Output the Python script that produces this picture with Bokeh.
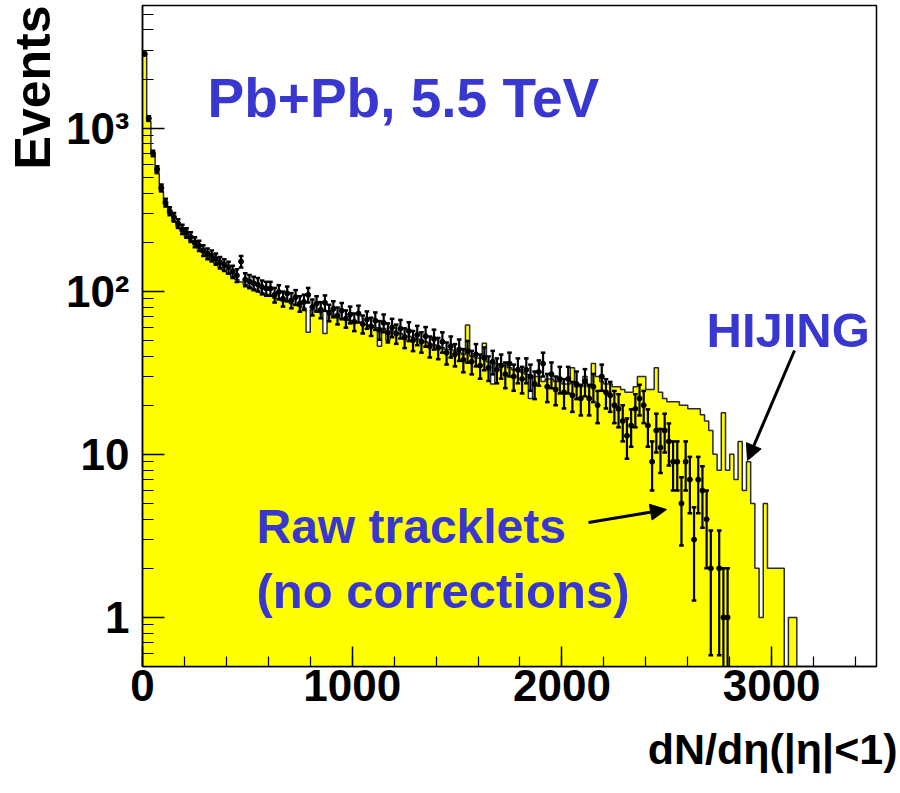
import math
import json
from bokeh.plotting import figure
from bokeh.models import (Range1d, FixedTicker, CustomJSTickFormatter, Label,
                          Arrow, NormalHead, Title)
from bokeh.embed import file_html
from bokeh.resources import INLINE

# ---------------- data ----------------
bin_width = 20  # dN/deta units per bin, bins start at 0

hijing_counts = [
    2900, 1100, 700, 525, 410, 340, 300, 268, 248, 232,
    215, 205, 193, 182, 172, 163, 156, 148, 140, 134,
    128, 123, 118, 114, 110, 107, 104, 101, 98, 96,
    93, 91, 89, 87, 86, 84, 82, 81, 79, 56,
    77, 76, 74, 55, 72, 71, 69, 68, 67, 66,
    65, 64, 63, 62, 61, 60, 46, 59, 50, 57,
    56, 55, 54, 53, 52, 51, 50, 49, 48, 47,
    46, 45, 44, 44, 43, 42, 41, 62, 40, 39,
    39, 48, 37, 27, 36, 35, 35, 34, 33, 33,
    32, 31, 22, 30, 30, 28, 29, 29, 28, 28,
    27, 27, 34, 26, 26, 30, 26, 36, 30, 28,
    27, 27, 26, 26, 25, 24, 24, 26, 30, 30,
    25, 25, 34, 24, 22, 21, 21, 21, 20, 20,
    19, 19, 19, 17.5, 16, 14, 10, 8, 18, 8,
    10, 7, 12, 6, 9, 5, 2, 1, 5, 2,
    2, 2, 2, 0, 1, 1,
]

tracklet_counts = [
    2850, 1150, 700, 560, 430, 350, 310, 285, 260, 240,
    228, 215, 200, 190, 178, 170, 165, 158, 150, 145,
    140, 132, 125, 152, 118, 115, 112, 110, 106, 104,
    104, 95, 99, 90, 97, 88, 92, 84, 86, 95,
    80, 84, 77, 85, 74, 78, 71, 76, 68, 72,
    65, 73, 63, 67, 61, 66, 58, 64, 56, 60,
    55, 59, 52, 57, 50, 54, 49, 53, 46, 51,
    45, 49, 42, 46, 41, 44, 38, 43, 37, 41,
    35, 39, 34, 37, 33, 35, 31, 36, 30, 33,
    29, 33, 30, 27, 32, 36, 26, 31, 25, 29,
    24, 29, 23, 27, 22, 28, 22, 26, 20, 30,
    24, 23, 20, 19, 16, 13, 15, 19, 22, 20,
    15, 9, 14, 11, 14, 12, 9, 9, 5, 9,
    7, 3, 7, 6, 4, 2, 0, 2, 1, 1,
]

x_tick_values = [0, 1000, 2000, 3000]
x_minor_step = 200
y_tick_values = [1, 10, 100, 1000]
y_tick_labels = ["1", "10", "10\u00b2", "10\u00b3"]

title_text = "Pb+Pb, 5.5 TeV"
hijing_text = "HIJING"
raw_text_1 = "Raw tracklets"
raw_text_2 = "(no corrections)"
x_title = "dN/d\u03b7(|\u03b7|<1)"
y_title = "Events"

# ---------------- layout ----------------
X_MIN, X_MAX = 0, 3500
Y_MIN, Y_MAX = 0.5, 5650
W, H = 900, 793
FL, FR, FT, FB = 142, 876, 5, 666   # frame edges in canvas pixels
FLOOR = 1e-3                         # below the visible log range
FONT = "Liberation Sans"
BLUE = "#3838d0"


def to_data(px, py):
    """Canvas pixel -> data coordinates (for placing annotations)."""
    x = X_MIN + (px - FL) / (FR - FL) * (X_MAX - X_MIN)
    l0, l1 = math.log10(Y_MIN), math.log10(Y_MAX)
    ly = l1 - (py - FT) / (FB - FT) * (l1 - l0)
    return x, 10 ** ly


p = figure(width=W, height=H,
           x_range=Range1d(X_MIN, X_MAX), y_range=Range1d(Y_MIN, Y_MAX),
           y_axis_type="log", output_backend="svg", toolbar_location=None,
           min_border_left=FL, min_border_right=W - FR,
           min_border_top=FT, min_border_bottom=H - FB)
p.background_fill_color = "white"
p.border_fill_color = "white"
p.outline_line_color = "black"
p.outline_line_width = 1.5
p.xgrid.visible = False
p.ygrid.visible = False

# ---------------- HIJING histogram (one filled step shape + outline) ----------------
sx, sy = [0], [FLOOR]
for i, c in enumerate(hijing_counts):
    v = c if c > 0 else FLOOR
    sx += [i * bin_width, (i + 1) * bin_width]
    sy += [v, v]
sx.append(len(hijing_counts) * bin_width)
sy.append(FLOOR)
p.patch(sx, sy, fill_color="#ffff00", line_color=None)
p.line(sx, sy, line_color="#2a2a2a", line_width=1.5)

# ---------------- raw tracklets (points with Poisson errors) ----------------
cx, cy, lo, hi = [], [], [], []
for i, n in enumerate(tracklet_counts):
    if n <= 0:
        continue
    e = math.sqrt(n)
    cx.append(i * bin_width + bin_width / 2)
    cy.append(n)
    lo.append(max(n - e, FLOOR))
    hi.append(n + e)

cap = 11
p.segment(x0=cx, y0=lo, x1=cx, y1=hi, line_color="black", line_width=2.2)
p.segment(x0=[x - cap for x in cx], y0=hi, x1=[x + cap for x in cx], y1=hi,
          line_color="black", line_width=2.5)
lcx = [x for x, l in zip(cx, lo) if l > FLOOR]
llo = [l for l in lo if l > FLOOR]
p.segment(x0=[x - cap for x in lcx], y0=llo, x1=[x + cap for x in lcx], y1=llo,
          line_color="black", line_width=2.5)
p.scatter(cx, cy, size=5, color="black")

# ---------------- axes ----------------
xax = p.xaxis[0]
yax = p.yaxis[0]
xax.ticker = FixedTicker(ticks=x_tick_values,
                         minor_ticks=list(range(X_MIN, X_MAX + 1, x_minor_step)))
ymin_ticks = []
for dec in [0.1, 1, 10, 100, 1000]:
    for k in range(2, 10):
        ymin_ticks.append(k * dec)
yax.ticker = FixedTicker(ticks=y_tick_values, minor_ticks=ymin_ticks)
label_map = {str(v): l for v, l in zip(y_tick_values, y_tick_labels)}
yax.formatter = CustomJSTickFormatter(
    code="const m = " + json.dumps(label_map) + "; const k = String(tick); return (k in m) ? m[k] : '';")

for ax, big in ((xax, 20), (yax, 22)):
    ax.major_tick_in = big
    ax.major_tick_out = 0
    ax.minor_tick_in = big // 2
    ax.minor_tick_out = 0
    ax.axis_line_color = "black"
    ax.axis_line_width = 1.5
    ax.major_tick_line_color = "black"
    ax.major_tick_line_width = 1.5
    ax.minor_tick_line_color = "black"
    ax.minor_tick_line_width = 1.2
    ax.major_label_text_font = FONT
    ax.major_label_text_font_style = "bold"
    ax.major_label_text_font_size = "44px"
    ax.major_label_text_color = "black"
xax.major_label_standoff = 3
yax.major_label_standoff = 13

# ---------------- axis titles (as side titles, right/top aligned) ----------------
p.add_layout(Title(text=x_title, align="right", offset=-21, standoff=38,
                   text_font=FONT, text_font_style="bold", text_font_size="43px",
                   text_color="black"), "below")
p.add_layout(Title(text=y_title, align="right", offset=0, standoff=4,
                   text_font=FONT, text_font_style="bold", text_font_size="50px",
                   text_color="black"), "left")

# ---------------- annotations ----------------
def blue_label(px, py, txt, size):
    x, y = to_data(px, py)
    p.add_layout(Label(x=x, y=y, text=txt, text_font=FONT, text_font_style="bold",
                       text_font_size=size, text_color=BLUE,
                       text_align="left", text_baseline="alphabetic"))

blue_label(207, 97, title_text, "55px")
blue_label(706, 329, hijing_text, "49px")
blue_label(256, 526, raw_text_1, "48px")
blue_label(256, 590, raw_text_2, "49px")

for (x0p, y0p, x1p, y1p) in [(794, 350, 747, 460), (588, 522, 666, 509)]:
    x0, y0 = to_data(x0p, y0p)
    x1, y1 = to_data(x1p, y1p)
    p.add_layout(Arrow(end=NormalHead(size=16, fill_color="black", line_color="black"),
                       x_start=x0, y_start=y0, x_end=x1, y_end=y1,
                       line_color="black", line_width=3))

open("out.html", "w").write(file_html(p, INLINE))
